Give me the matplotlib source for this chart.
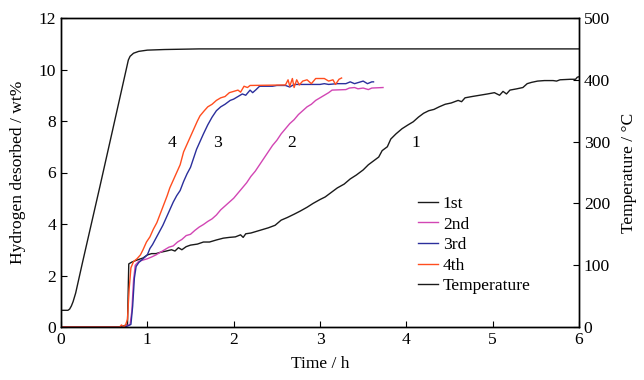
import matplotlib
matplotlib.use('Agg')
import matplotlib.pyplot as plt

plt.rcParams['font.family'] = ['Liberation Serif', 'DejaVu Serif']
plt.rcParams['font.size'] = 12.6

# hydrogen desorbed, wt% vs time, h
t1 = [0, 0.7, 0.74, 0.77, 0.785, 0.82, 0.88, 0.95, 1.0, 1.05, 1.1, 1.15, 1.22, 1.28, 1.32, 1.36, 1.4, 1.45,
      1.5, 1.58, 1.65, 1.72, 1.8, 1.88, 1.95, 2.02, 2.08, 2.11, 2.14, 2.2, 2.3, 2.4, 2.48, 2.55, 2.62, 2.7,
      2.77, 2.85, 2.92, 3.0, 3.06, 3.12, 3.2, 3.28, 3.35, 3.42, 3.5, 3.56, 3.62, 3.68, 3.72, 3.78, 3.82,
      3.88, 3.95, 4.02, 4.08, 4.14, 4.2, 4.26, 4.32, 4.38, 4.45, 4.52, 4.6, 4.64, 4.68, 4.76, 4.85, 4.94,
      5.02, 5.08, 5.12, 5.16, 5.2, 5.28, 5.35, 5.4, 5.45, 5.52, 5.6, 5.7, 5.74, 5.78, 5.9, 5.96, 5.98, 6.0]
h1 = [0, 0, 0.06, 0.08, 2.45, 2.52, 2.6, 2.68, 2.8, 2.85, 2.85, 2.9, 2.95, 3.0, 2.95, 3.08, 3.0, 3.12,
      3.18, 3.22, 3.3, 3.3, 3.38, 3.45, 3.48, 3.5, 3.58, 3.48, 3.62, 3.65, 3.75, 3.85, 3.95, 4.15, 4.25, 4.38,
      4.5, 4.65, 4.8, 4.95, 5.05, 5.2, 5.4, 5.55, 5.75, 5.9, 6.1, 6.3, 6.45, 6.6, 6.85, 7.0, 7.3,
      7.5, 7.7, 7.85, 7.97, 8.15, 8.3, 8.4, 8.45, 8.55, 8.65, 8.7, 8.8, 8.75, 8.9, 8.95, 9.0, 9.05,
      9.1, 9.0, 9.15, 9.05, 9.2, 9.25, 9.3, 9.45, 9.5, 9.55, 9.57, 9.57, 9.55, 9.6, 9.62, 9.62, 9.7, 9.72]

t2 = [0, 0.72, 0.76, 0.8, 0.82, 0.84, 0.86, 0.9, 0.95, 1.0, 1.05, 1.1, 1.15, 1.2, 1.25, 1.3, 1.35, 1.4,
      1.45, 1.5, 1.55, 1.6, 1.65, 1.7, 1.75, 1.8, 1.85, 1.9, 1.95, 2.0, 2.05, 2.1, 2.15, 2.2, 2.25, 2.3,
      2.35, 2.4, 2.45, 2.5, 2.55, 2.6, 2.65, 2.7, 2.75, 2.8, 2.85, 2.9, 2.95, 3.0, 3.05, 3.1, 3.14, 3.3,
      3.34, 3.4, 3.44, 3.5, 3.56, 3.6, 3.73]
h2 = [0, 0, 0.05, 0.1, 0.6, 1.8, 2.4, 2.55, 2.6, 2.65, 2.72, 2.8, 2.9, 3.0, 3.1, 3.15, 3.3, 3.4,
      3.55, 3.6, 3.75, 3.88, 3.98, 4.1, 4.2, 4.35, 4.55, 4.7, 4.85, 5.0, 5.2, 5.4, 5.6, 5.85, 6.05, 6.3,
      6.55, 6.8, 7.05, 7.25, 7.5, 7.7, 7.9, 8.05, 8.25, 8.4, 8.55, 8.65, 8.8, 8.9, 9.0, 9.1, 9.2, 9.22,
      9.28, 9.3, 9.25, 9.28, 9.22, 9.28, 9.3]

t3 = [0, 0.74, 0.78, 0.81, 0.83, 0.85, 0.87, 0.9, 0.95, 1.0, 1.03, 1.06, 1.1, 1.14, 1.18, 1.22, 1.26,
      1.3, 1.34, 1.38, 1.42, 1.46, 1.5, 1.54, 1.57, 1.61, 1.65, 1.7, 1.75, 1.8, 1.85, 1.9, 1.96, 2.0,
      2.05, 2.1, 2.14, 2.19, 2.22, 2.26, 2.3, 2.45, 2.5, 2.6, 2.65, 2.7, 3.0, 3.05, 3.1, 3.2, 3.3, 3.35,
      3.4, 3.45, 3.5, 3.55, 3.6, 3.62]
h3 = [0, 0, 0.05, 0.1, 0.8, 1.9, 2.35, 2.5, 2.65, 2.8, 3.05, 3.2, 3.45, 3.7, 3.95, 4.25, 4.55,
      4.85, 5.1, 5.3, 5.65, 5.95, 6.2, 6.6, 6.9, 7.2, 7.5, 7.85, 8.15, 8.4, 8.55, 8.65, 8.8, 8.85,
      8.95, 9.05, 9.0, 9.2, 9.1, 9.22, 9.35, 9.35, 9.38, 9.38, 9.32, 9.42, 9.42, 9.45, 9.42, 9.45, 9.45, 9.52,
      9.45, 9.5, 9.55, 9.45, 9.52, 9.52]

t4 = [0, 0.68, 0.7, 0.73, 0.75, 0.77, 0.79, 0.81, 0.84, 0.88, 0.92, 0.95, 0.99, 1.03, 1.07, 1.11, 1.15,
      1.19, 1.23, 1.26, 1.3, 1.34, 1.38, 1.42, 1.46, 1.5, 1.54, 1.58, 1.61, 1.66, 1.7, 1.75, 1.8, 1.85,
      1.9, 1.95, 2.0, 2.05, 2.08, 2.12, 2.16, 2.19, 2.6, 2.63, 2.65, 2.68, 2.7, 2.73, 2.76, 2.8, 2.85,
      2.9, 2.95, 3.05, 3.1, 3.15, 3.18, 3.22, 3.25]
h4 = [0, 0, 0.08, 0.0, 0.1, 0.3, 1.5, 2.3, 2.54, 2.65, 2.8, 3.0, 3.3, 3.5, 3.8, 4.05, 4.4,
      4.75, 5.1, 5.4, 5.7, 6.0, 6.3, 6.8, 7.1, 7.4, 7.7, 8.0, 8.2, 8.4, 8.55, 8.65, 8.8, 8.9,
      8.95, 9.1, 9.15, 9.2, 9.12, 9.35, 9.3, 9.38, 9.4, 9.6, 9.35, 9.65, 9.3, 9.6, 9.4, 9.55, 9.6,
      9.45, 9.65, 9.65, 9.55, 9.6, 9.42, 9.62, 9.67]

# furnace temperature, degC
t_temp = [0, 0.08, 0.1, 0.12, 0.14, 0.17, 0.25, 0.45, 0.6, 0.78, 0.8, 0.84, 0.9, 1.0, 1.2, 1.6, 6.0]
temp = [27, 27, 29, 34, 41, 55, 105, 227, 320, 432, 438, 443, 446, 448, 449, 450, 450]

fig = plt.figure(figsize=(6.44, 3.80), dpi=100)
ax = fig.add_axes([61/644, 53/380, 518/644, 309/380])
ax2 = ax.twinx()

l1, = ax.plot(t1, h1, color='#1a1a1a', lw=1.0, label='1st')
l2, = ax.plot(t2, h2, color='#d246b4', lw=1.0, label='2nd')
l3, = ax.plot(t3, h3, color='#2b2f9c', lw=1.0, label='3rd')
l4, = ax.plot(t4, h4, color='#ff4d1f', lw=1.0, label='4th')
lt, = ax2.plot(t_temp, temp, color='#1a1a1a', lw=1.0, label='Temperature')

ax.set_xlim(0, 6)
ax.set_ylim(0, 12)
ax2.set_ylim(0, 500)
ax.set_xticks(range(0, 7))
ax.set_yticks(range(0, 13, 2))
ax2.set_yticks(range(0, 501, 100))

ax.tick_params(direction='in', length=4, width=0.8, top=False, right=False)
ax2.tick_params(direction='in', length=4, width=0.8)
for a in (ax, ax2):
    for s in a.spines.values():
        s.set_linewidth(1.0)

ax.set_xlabel('Time / h', labelpad=6)
ax.set_ylabel('Hydrogen desorbed / wt%', labelpad=9)
ax2.set_ylabel('Temperature / °C', labelpad=8)

for lab, x in [('4', 1.29), ('3', 1.81), ('2', 2.67), ('1', 4.11)]:
    ax.text(x, 7.15, lab, ha='center', va='center')

ax2.legend(handles=[l1, l2, l3, l4, lt], loc='upper left', bbox_to_anchor=(0.69, 0.425),
           frameon=False, handlelength=1.1, handletextpad=0.3, labelspacing=0.25,
           borderaxespad=0, borderpad=0)

plt.savefig('out.png', dpi=100)
